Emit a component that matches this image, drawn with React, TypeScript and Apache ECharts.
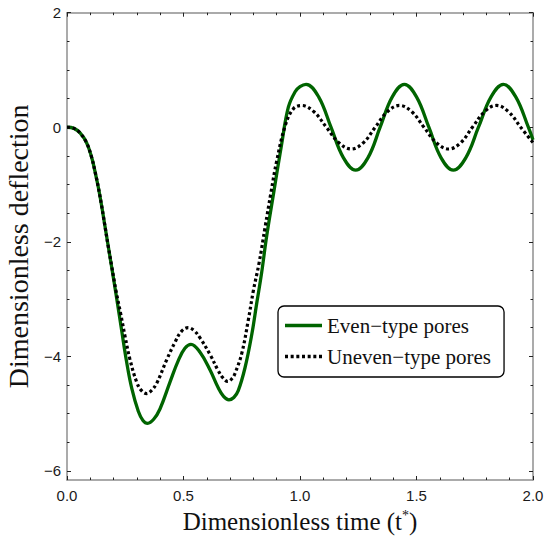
import React, { useEffect, useRef } from "react";
import * as echarts from "echarts";

const EVEN_T = [0, 0.03, 0.056, 0.084, 0.106, 0.12, 0.134, 0.149, 0.163, 0.177, 0.192, 0.213, 0.235, 0.256, 0.278, 0.306, 0.326, 0.346, 0.372, 0.399, 0.442, 0.478, 0.506, 0.532, 0.571, 0.614, 0.649, 0.672, 0.695, 0.716, 0.735, 0.764, 0.793, 0.814, 0.835, 0.857, 0.886, 0.921, 0.95, 0.979, 1.0, 1.026, 1.08, 1.133, 1.186, 1.239, 1.292, 1.344, 1.396, 1.448, 1.5, 1.553, 1.605, 1.658, 1.712, 1.766, 1.82, 1.873, 1.926, 1.98, 2.0];
const EVEN_V = [0, -0.02, -0.1, -0.27, -0.53, -0.77, -1.04, -1.38, -1.73, -2.08, -2.45, -2.98, -3.56, -4.1, -4.56, -4.96, -5.12, -5.17, -5.1, -4.92, -4.45, -4.07, -3.86, -3.79, -3.93, -4.24, -4.55, -4.7, -4.76, -4.72, -4.6, -4.2, -3.62, -3.08, -2.55, -1.9, -1.17, -0.3, 0.35, 0.62, 0.71, 0.75, 0.53, 0, -0.53, -0.75, -0.53, 0, 0.53, 0.75, 0.53, 0, -0.53, -0.75, -0.53, 0, 0.53, 0.75, 0.53, 0, -0.22];

const UNEVEN_T = [0, 0.03, 0.056, 0.084, 0.106, 0.12, 0.134, 0.149, 0.163, 0.177, 0.192, 0.21, 0.23, 0.25, 0.27, 0.299, 0.32, 0.342, 0.362, 0.385, 0.428, 0.464, 0.492, 0.52, 0.545, 0.571, 0.614, 0.649, 0.67, 0.69, 0.71, 0.721, 0.75, 0.778, 0.8, 0.824, 0.85, 0.875, 0.9, 0.936, 0.971, 1.007, 1.06, 1.113, 1.167, 1.22, 1.272, 1.323, 1.375, 1.427, 1.48, 1.532, 1.585, 1.638, 1.69, 1.74, 1.792, 1.843, 1.895, 1.947, 2.0];
const UNEVEN_V = [0, -0.02, -0.1, -0.27, -0.53, -0.77, -1.04, -1.38, -1.73, -2.08, -2.43, -2.85, -3.25, -3.67, -4.05, -4.45, -4.6, -4.65, -4.6, -4.47, -4.06, -3.75, -3.56, -3.5, -3.55, -3.68, -3.97, -4.25, -4.38, -4.44, -4.38, -4.3, -3.95, -3.37, -2.85, -2.38, -1.75, -1.15, -0.59, 0.02, 0.32, 0.38, 0.27, 0, -0.27, -0.38, -0.27, 0, 0.27, 0.38, 0.27, 0, -0.27, -0.38, -0.27, 0, 0.27, 0.38, 0.27, 0, -0.27];

const SERIES_NAMES = ["Even\u2212type pores", "Uneven\u2212type pores"];
const Y_MAJOR = [-6, -4, -2, 0, 2];
const Y_MINOR = [-5.5, -5, -4.5, -3.5, -3, -2.5, -1.5, -1, -0.5, 0.5, 1, 1.5];
const X_MIN = 0, X_MAX = 2, X_INTERVAL = 0.5;
const Y_MIN = -6.16, Y_MAX = 2;

const AXIS_COLOR = "#8f8f8f";
const GREEN = "#006400";
const fmtY = (v: number) => (v < 0 ? "\u2212" + Math.abs(v) : String(v));

const SOLID_ICON = "path://M0,0H37V3.3H0Z";
const DOTTED_ICON =
  "path://M0,0h3v3.3h-3z M5.67,0h3v3.3h-3z M11.33,0h3v3.3h-3z M17,0h3v3.3h-3z M22.67,0h3v3.3h-3z M28.33,0h3v3.3h-3z M34,0h3v3.3h-3z";

export default function App() {
  const ref = useRef<HTMLDivElement>(null);
  useEffect(() => {
    if (!ref.current) return;
    const chart = echarts.init(ref.current, null, { renderer: "svg" });
    const serif = "Liberation Serif, Times New Roman, serif";
    const labelStyle = { color: "#1a1a1a", fontFamily: "Liberation Sans, Arial, sans-serif", fontSize: 15 };
    const yAxisBase = (position: string, ticks: number[], len: number, showLine: boolean, showLabel: boolean) => ({
      type: "value",
      min: Y_MIN,
      max: Y_MAX,
      position,
      axisLine: { show: showLine, lineStyle: { color: AXIS_COLOR, width: 1.5 } },
      axisTick: { show: true, inside: true, length: len, customValues: ticks, lineStyle: { color: "#222", width: 1 } },
      axisLabel: showLabel
        ? { show: true, customValues: ticks, formatter: fmtY, margin: 6, ...labelStyle }
        : { show: false },
      splitLine: { show: false },
    });
    const xAxisBase = (position: string, showLabel: boolean) => ({
      type: "value",
      min: X_MIN,
      max: X_MAX,
      interval: X_INTERVAL,
      position,
      axisLine: { show: true, onZero: false, lineStyle: { color: AXIS_COLOR, width: 1.5 } },
      axisTick: { show: true, inside: true, length: 4, lineStyle: { color: "#222", width: 1 } },
      minorTick: { show: true, splitNumber: 5, length: 2.5, lineStyle: { color: "#222", width: 1 } },
      axisLabel: showLabel
        ? { show: true, formatter: (v: number) => v.toFixed(1), margin: 8, ...labelStyle }
        : { show: false },
      splitLine: { show: false },
      minorSplitLine: { show: false },
    });
    const bottomX: any = xAxisBase("bottom", true);
    bottomX.name = "Dimensionless time (t{sup|*})";
    bottomX.nameLocation = "middle";
    bottomX.nameGap = 28;
    bottomX.nameTextStyle = {
      color: "#111",
      fontFamily: serif,
      fontSize: 25,
      rich: { sup: { color: "#111", fontFamily: serif, fontSize: 14, verticalAlign: "top", padding: [0, 0, 12, 0] } },
    };
    const leftY: any = yAxisBase("left", Y_MAJOR, 4, true, true);
    leftY.name = "Dimensionless deflection";
    leftY.nameLocation = "middle";
    leftY.nameGap = 35;
    leftY.nameTextStyle = { color: "#111", fontFamily: serif, fontSize: 28 };

    chart.setOption({
      animation: false,
      backgroundColor: "#ffffff",
      grid: { left: 67, right: 11, top: 12.7, bottom: 59, containLabel: false, outerBoundsMode: "none" },
      xAxis: [bottomX, xAxisBase("top", false)],
      yAxis: [
        leftY,
        yAxisBase("left", Y_MINOR, 2.5, false, false),
        yAxisBase("right", Y_MAJOR, 4, true, false),
        yAxisBase("right", Y_MINOR, 2.5, false, false),
      ],
      legend: {
        orient: "vertical",
        left: 278,
        top: 306,
        padding: [9, 13, 10, 7],
        itemGap: 10,
        itemWidth: 37,
        itemHeight: 3.3,
        borderColor: "#000",
        borderWidth: 1.3,
        borderRadius: 6,
        backgroundColor: "#fff",
        textStyle: { color: "#111", fontFamily: serif, fontSize: 21 },
        data: [
          { name: SERIES_NAMES[0], icon: SOLID_ICON, itemStyle: { color: GREEN, borderWidth: 0 } },
          { name: SERIES_NAMES[1], icon: DOTTED_ICON, itemStyle: { color: "#000", borderWidth: 0 } },
        ],
      },
      series: [
        {
          name: SERIES_NAMES[0],
          type: "line",
          smooth: 0.4,
          symbol: "none",
          data: EVEN_T.map((t, i) => [t, EVEN_V[i]]),
          lineStyle: { color: GREEN, width: 3.3 },
          itemStyle: { color: GREEN },
          z: 2,
        },
        {
          name: SERIES_NAMES[1],
          type: "line",
          smooth: 0.4,
          symbol: "none",
          data: UNEVEN_T.map((t, i) => [t, UNEVEN_V[i]]),
          lineStyle: { color: "#000", width: 3.2, type: [3, 2.7] },
          itemStyle: { color: "#000" },
          z: 3,
        },
      ],
    });
    return () => chart.dispose();
  }, []);
  return <div ref={ref} style={{ position: "fixed", left: 0, top: 0, width: 544, height: 539, background: "#fff" }} />;
}
